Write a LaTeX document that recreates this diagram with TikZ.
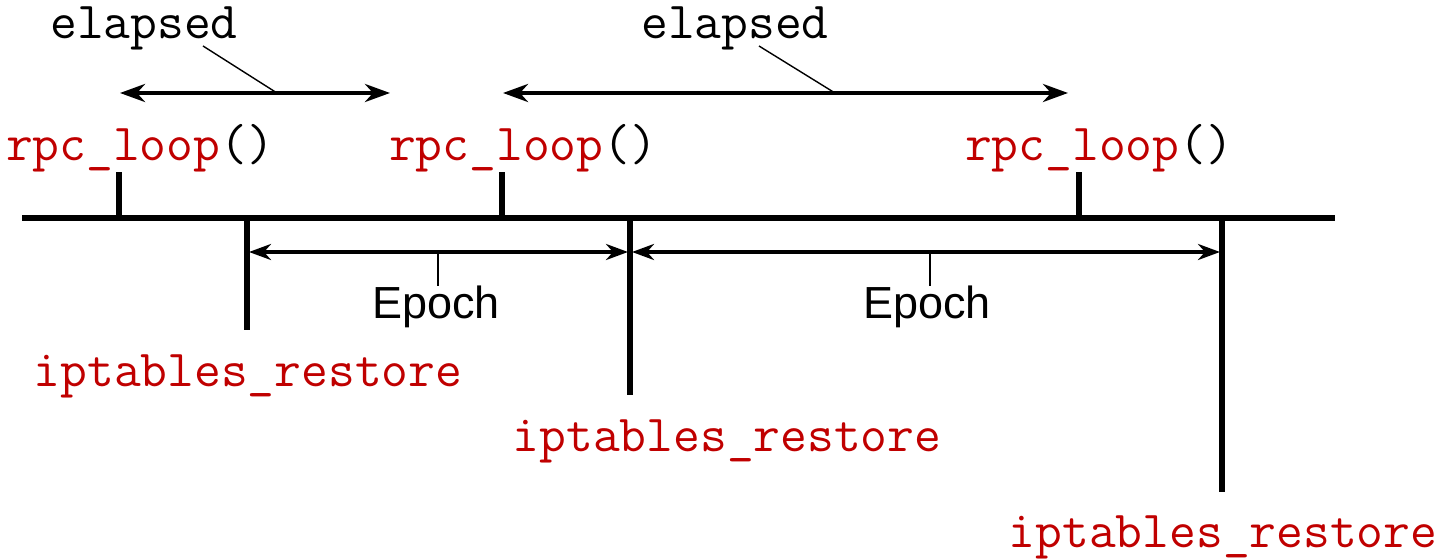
\documentclass[tikz,border=0pt]{standalone}
\usepackage{fontspec}
\setmainfont{Liberation Sans}
\usetikzlibrary{arrows.meta, positioning}
\definecolor{FuncRed}{HTML}{C00000}
\newcommand{\codesize}{\fontsize{29.6}{34}\selectfont}
\newcommand{\textsize}{\fontsize{25.6}{30}\selectfont}
\newcommand{\fn}[1]{\textcolor{FuncRed}{#1}}
\tikzset{
  % Line styles
  timeline/.style={line width=3.4pt, black},
  tickline/.style={line width=3.6pt, black},
  span/.style={{Stealth[length=0.5cm, width=0.36cm, inset=0.16cm]}-{Stealth[length=0.5cm, width=0.36cm, inset=0.16cm]}, line width=2.3pt},
  epochspan/.style={{Stealth[length=0.44cm, width=0.32cm, inset=0.14cm]}-{Stealth[length=0.44cm, width=0.32cm, inset=0.14cm]}, line width=2.1pt},
  leader/.style={line width=0.8pt},
  % Label styles
  codelabel/.style={inner sep=0pt, anchor=base, font=\ttfamily\codesize},
  textlabel/.style={inner sep=0pt, anchor=base, font=\textsize}
}

\begin{document}
\begin{tikzpicture}[x=0.02cm, y=-0.02cm]
  \useasboundingbox (0,0) rectangle (1445,560);

  % Main time axis
  \coordinate (start) at (22,218);
  \coordinate (end) at (1335,218);
  \draw[timeline] (start) -- (end);

  % rpc_loop() calls above the axis
  \foreach \x/\n in {119/r1, 502/r2, 1079/r3} {
    \coordinate (\n top) at (\x,172);
    \coordinate (\n) at (\x,218);
    \draw[tickline] (\n) -- (\n top);
  }
  \node[codelabel] (rl1) at (140,161) {\fn{rpc\_loop}()};
  \node[codelabel] (rl2) at (523,161) {\fn{rpc\_loop}()};
  \node[codelabel] (rl3) at (1099,161) {\fn{rpc\_loop}()};

  % iptables_restore calls below the axis
  \foreach \x/\y/\n in {247/330/i1, 630/395/i2, 1222/492/i3} {
    \coordinate (\n) at (\x,218);
    \coordinate (\n bot) at (\x,\y);
    \draw[tickline] (\n) -- (\n bot);
  }
  \node[codelabel] (il1) at (248,387) {\fn{iptables\_restore}};
  \node[codelabel] (il2) at (727,452) {\fn{iptables\_restore}};
  \node[codelabel] (il3) at (1223,548) {\fn{iptables\_restore}};

  % Elapsed spans between rpc_loop() calls
  \coordinate (e1l) at (120,93);
  \coordinate (e1r) at (390,93);
  \coordinate (e2l) at (503,93);
  \coordinate (e2r) at (1068,93);
  \draw[span] (e1l) -- (e1r);
  \draw[span] (e2l) -- (e2r);
  \node[codelabel] (el1) at (144,39) {elapsed};
  \node[codelabel] (el2) at (735,39) {elapsed};
  \coordinate (e1foot) at (277,93);
  \coordinate (e2foot) at (835,93);
  \draw[leader] (203,46) -- (e1foot);
  \draw[leader] (759,46) -- (e2foot);

  % Epochs between iptables_restore calls
  \coordinate (p1l) at (249,252);
  \coordinate (p1r) at (628,252);
  \coordinate (p2l) at (632,252);
  \coordinate (p2r) at (1220,252);
  \draw[epochspan] (p1l) -- (p1r);
  \draw[epochspan] (p2l) -- (p2r);
  \node[textlabel] (ep1) at (436,319) {Epoch};
  \node[textlabel] (ep2) at (927,319) {Epoch};
  \coordinate (p1foot) at (438,252);
  \coordinate (p2foot) at (930,252);
  \draw[leader] (p1foot) -- (438,286);
  \draw[leader] (p2foot) -- (930,286);
\end{tikzpicture}
\end{document}
